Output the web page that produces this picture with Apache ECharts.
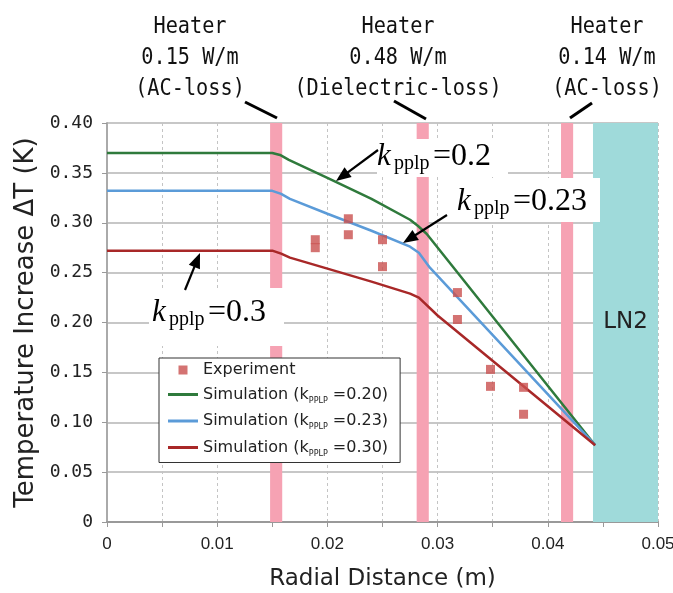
<!DOCTYPE html>
<html>
<head>
<meta charset="utf-8">
<script src="https://cdn.jsdelivr.net/npm/echarts@6/dist/echarts.min.js"></script>
<style>
html,body{margin:0;padding:0;background:#fff;}
#chart{width:673px;height:593px;}
</style>
</head>
<body>
<div id="chart"></div>
<script>
// ---- data ----
const xExp = [0.0189,0.0189,0.0219,0.0219,0.0250,0.0250,0.0318,0.0318,0.0348,0.0348,0.0378,0.0378];
const yExp = [0.283,0.275,0.304,0.288,0.283,0.256,0.230,0.203,0.153,0.136,0.135,0.108];

const simX20 = [0,0.0150,0.0157,0.0165,0.0200,0.0240,0.0275,0.0282,0.0290,0.0443];
const simY20 = [0.370,0.370,0.368,0.363,0.345,0.324,0.303,0.297,0.289,0.077];
const simX23 = [0,0.0150,0.0158,0.0166,0.0200,0.0240,0.0275,0.0283,0.0293,0.0443];
const simY23 = [0.332,0.332,0.329,0.324,0.309,0.292,0.276,0.270,0.255,0.077];
const simX30 = [0,0.0150,0.0158,0.0166,0.0200,0.0240,0.0275,0.0283,0.0300,0.0443];
const simY30 = [0.272,0.272,0.269,0.265,0.254,0.241,0.229,0.225,0.207,0.077];

const kValues = ['0.20','0.23','0.30'];
const heaterBands = [[0.0148,0.0159],[0.0281,0.0292],[0.0412,0.0423]];
const ln2Band = [0.0441,0.05];
const heaterText = [
  ['Heater','0.15 W/m','(AC-loss)'],
  ['Heater','0.48 W/m','(Dielectric-loss)'],
  ['Heater','0.14 W/m','(AC-loss)']
];
const kLabels = ['0.2','0.23','0.3'];

const xTickLabels = ['0','0.01','0.02','0.03','0.04','0.05'];

// ---- build ----
const zip = (xs, ys) => xs.map((x, i) => [x, ys[i]]);
const simNames = kValues.map(k => 'Simulation (kPPLP =' + k + ')');
const colors = ['#2f7a3c', '#5b9bd8', '#a82828'];
const expColor = '#c9504f';

const chart = echarts.init(document.getElementById('chart'), null, {renderer: 'canvas'});

// graphic annotations
const graphics = [];
const heaterCx = [190, 398, 607];
const lineY = [27, 58, 89];
heaterText.forEach((lines, i) => {
  lines.forEach((t, j) => {
    graphics.push({type:'text', x: heaterCx[i], y: lineY[j], scaleX: 0.88, z: 100,
      style:{text:t, font:'23px "DejaVu Sans Mono"', fill:'#111', align:'center', verticalAlign:'middle'}});
  });
});
const leaders = [[245,102,277,118],[394,101,426,119],[592,103,570,118]];
leaders.forEach(l => graphics.push({type:'line', z:100, shape:{x1:l[0],y1:l[1],x2:l[2],y2:l[3]}, style:{stroke:'#000', lineWidth:3}}));

// white boxes behind k labels
const boxes = [[377,139,131,38],[452,178,148,44],[149,288,135,58]];
boxes.forEach(b => graphics.push({type:'rect', z:90, shape:{x:b[0],y:b[1],width:b[2],height:b[3]}, style:{fill:'#fff'}}));

// k labels: [kLeft, baseline]
const kPos = [[377,167],[457,212],[152,323]];
kPos.forEach((p, i) => {
  const B = p[1];
  graphics.push({type:'text', x:p[0], y:B - 10, z:101, style:{text:'k', font:'italic 31px "Liberation Serif"', fill:'#000', align:'left', verticalAlign:'middle'}});
  graphics.push({type:'text', x:p[0]+17, y:B + 3 - 6.4, z:101, style:{text:'pplp', font:'20px "Liberation Serif"', fill:'#000', align:'left', verticalAlign:'middle'}});
  graphics.push({type:'text', x:p[0]+56, y:B - 10.2, z:101, style:{text:'=' + kLabels[i], font:'32px "Liberation Serif"', fill:'#000', align:'left', verticalAlign:'middle'}});
});

// arrows
function arrow(x1, y1, x2, y2) {
  const dx = x2 - x1, dy = y2 - y1, L = Math.hypot(dx, dy);
  const ux = dx / L, uy = dy / L, hl = 15, hw = 6;
  const bx = x2 - ux * hl, by = y2 - uy * hl;
  graphics.push({type:'line', z:101, shape:{x1, y1, x2: bx + ux*2, y2: by + uy*2}, style:{stroke:'#000', lineWidth:2.2}});
  graphics.push({type:'polygon', z:101, shape:{points:[[x2,y2],[bx - uy*hw, by + ux*hw],[bx + uy*hw, by - ux*hw]]}, style:{fill:'#000'}});
}
arrow(378,150,336,181);
arrow(447,215,403,243);
arrow(185,290,200,253);

const lineIcon = 'path://M0 0H30V3H0Z';
const squareIcon = 'path://M0 0H10V10H0Z';

const option = {
  backgroundColor: '#fff',
  animation: false,
  textStyle: {fontFamily: '"DejaVu Sans"'},
  grid: {left: 107, right: 15, top: 123, bottom: 71, containLabel: false, outerBoundsMode: 'none'},
  xAxis: {
    type: 'value', min: 0, max: 0.05, interval: 0.005,
    name: 'Radial Distance (m)', nameLocation: 'middle', nameGap: 46,
    nameTextStyle: {fontSize: 23, color: '#222', fontFamily: '"DejaVu Sans"'},
    axisLine: {show: true, onZero: false, lineStyle: {color: '#999', width: 2}},
    axisTick: {show: true, length: 5, lineStyle: {color: '#999'}},
    axisLabel: {
      margin: 14, fontSize: 17, color: '#222', fontFamily: '"Liberation Sans"',
      formatter: v => { const k = Math.round(v * 1000); if (k % 10 !== 0) return ''; return xTickLabels[k / 10]; }
    },
    splitLine: {show: true, lineStyle: {color: '#c4c4c4', type: [3, 3], width: 1}}
  },
  yAxis: {
    type: 'value', min: 0, max: 0.4, interval: 0.05,
    name: 'Temperature Increase ΔT (K)', nameLocation: 'middle', nameRotate: 90, nameGap: 63,
    nameTextStyle: {fontSize: 26, color: '#222', fontFamily: '"DejaVu Sans"'},
    axisLine: {show: true, lineStyle: {color: '#aaa', width: 2}},
    axisTick: {show: true, length: 5, lineStyle: {color: '#999'}},
    axisLabel: {margin: 14, fontSize: 18, color: '#222', fontFamily: '"DejaVu Sans Mono"',
      formatter: v => v === 0 ? '0' : v.toFixed(2)},
    splitLine: {show: true, lineStyle: {color: '#b4b4b4', width: 1.5}}
  },
  legend: {
    orient: 'vertical', left: 159, top: 358,
    backgroundColor: '#fff', borderColor: '#333', borderWidth: 1,
    padding: [4, 12, 5, 9], itemGap: 8.5, itemWidth: 30, itemHeight: 9,
    symbolKeepAspect: true,
    data: [
      {name: 'Experiment', icon: squareIcon},
      ...simNames.map(n => ({name: n, icon: lineIcon}))
    ],
    formatter: name => {
      if (name === 'Experiment') return '{t|Experiment}';
      const k = name.split('=')[1];
      return '{t|Simulation (k}{s|PPLP}{t| =' + k + '}';
    },
    textStyle: {
      color: '#222',
      rich: {
        t: {fontSize: 16, fontFamily: '"DejaVu Sans"', lineHeight: 20, color: '#222'},
        s: {fontSize: 8, fontFamily: '"DejaVu Sans"', lineHeight: 12, verticalAlign: 'bottom', color: '#222'}
      }
    },
    z: 50
  },
  graphic: graphics,
  series: [
    {
      name: 'bands', type: 'line', data: [], z: 1, silent: true,
      markArea: {
        silent: true,
        data: [
          ...heaterBands.map(b => [{xAxis: b[0], yAxis: 0, itemStyle: {color: '#f6a2b3'}}, {xAxis: b[1], yAxis: 0.4}]),
          [{xAxis: ln2Band[0], yAxis: 0, itemStyle: {color: '#9fdada'},
            label: {show: true, position: 'inside', formatter: 'LN2', fontSize: 23, color: '#222', fontFamily: '"DejaVu Sans"'}},
           {xAxis: ln2Band[1], yAxis: 0.4}]
        ],
        label: {show: false}
      }
    },
    {name: simNames[0], type: 'line', data: zip(simX20, simY20), symbol: 'none', z: 3,
      lineStyle: {color: colors[0], width: 2.5}, itemStyle: {color: colors[0]}},
    {name: simNames[1], type: 'line', data: zip(simX23, simY23), symbol: 'none', z: 3,
      lineStyle: {color: colors[1], width: 2.5}, itemStyle: {color: colors[1]}},
    {name: simNames[2], type: 'line', data: zip(simX30, simY30), symbol: 'none', z: 3,
      lineStyle: {color: colors[2], width: 2.5}, itemStyle: {color: colors[2]}},
    {name: 'Experiment', type: 'scatter', data: zip(xExp, yExp), symbol: 'rect', symbolSize: 9, z: 4,
      itemStyle: {color: expColor}}
  ]
};
chart.setOption(option);
</script>
</body>
</html>
